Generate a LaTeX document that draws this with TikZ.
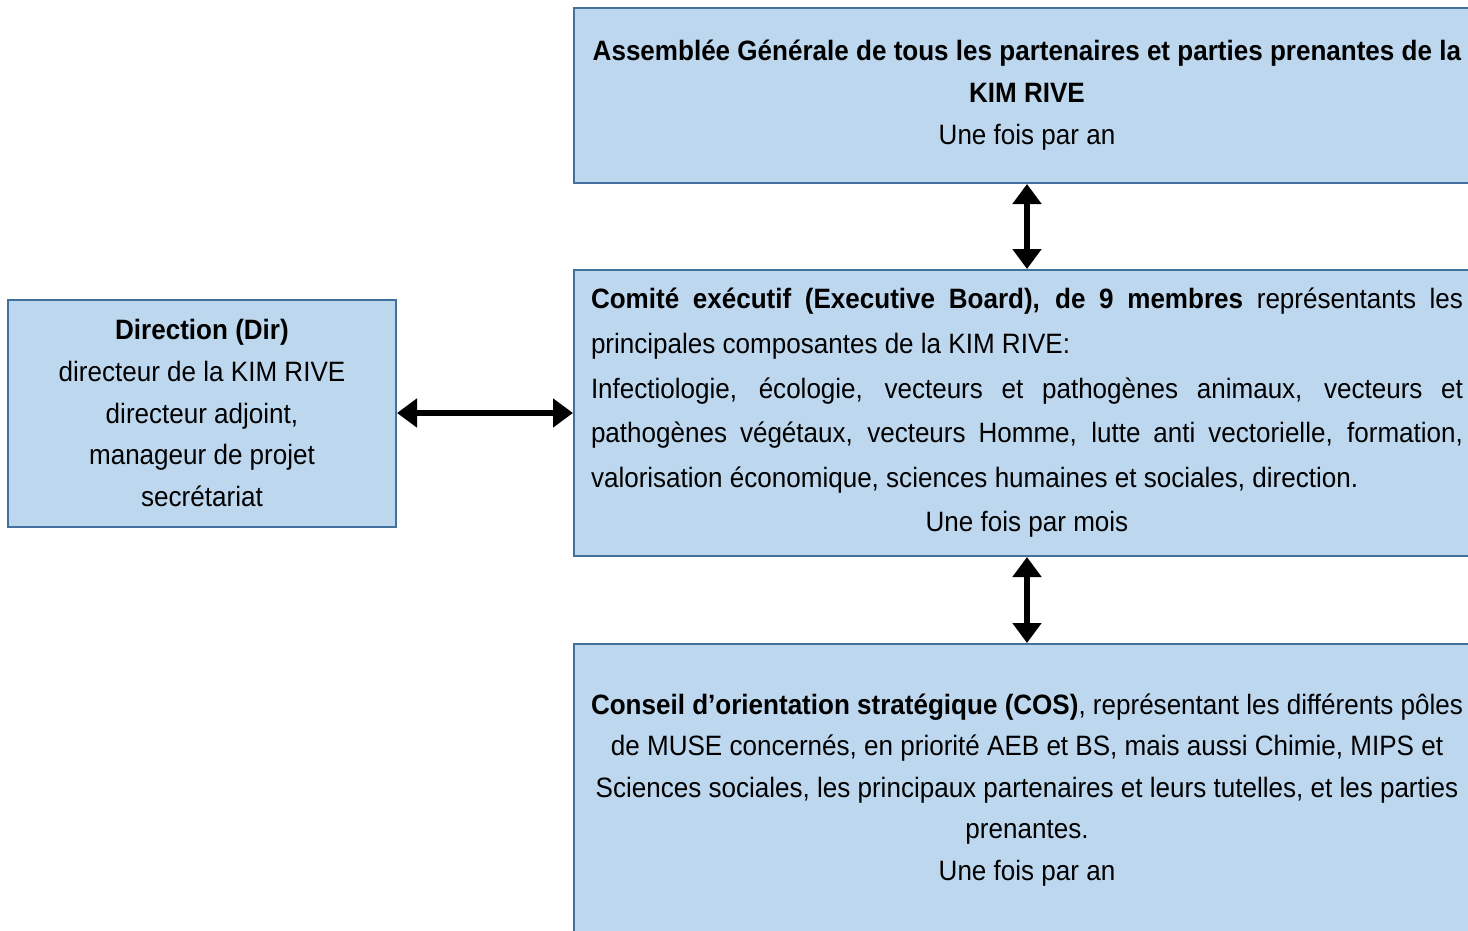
\documentclass[tikz,border=0pt]{standalone}
\usepackage{fontspec}
\setmainfont{Liberation Sans}[FakeStretch=0.93]
\usetikzlibrary{positioning,arrows.meta}
\definecolor{boxfill}{RGB}{189,215,238}
\definecolor{boxline}{RGB}{65,113,156}

\begin{document}
\begin{tikzpicture}[x=1pt,y=-1pt,
  box/.style={draw=boxline,fill=boxfill,line width=2pt,inner xsep=17pt,inner ysep=0pt,
    font=\fontsize{28}{42}\selectfont},
  link/.style={{Triangle[length=20pt,width=28pt]}-{Triangle[length=20pt,width=28pt]},line width=6pt}]
  \useasboundingbox (0,0) rectangle (1468,930);

  \node[box,anchor=north west,text width=872pt,minimum height=175pt,align=flush center] (ag) at (573,7)
    {\textbf{Assemblée Générale de tous les partenaires et parties prenantes de la}\\
     \textbf{KIM RIVE}\\
     Une fois par an};
  \node[box,below=85pt of ag,text width=872pt,minimum height=286pt,align=justify,
    font=\fontsize{28}{44.6}\selectfont] (ce)
    {\textbf{Comité exécutif (Executive Board), de 9 membres} représentants les\linebreak
     principales composantes de la KIM RIVE:\newline
     Infectiologie, écologie, vecteurs et pathogènes animaux, vecteurs et\linebreak
     pathogènes végétaux, vecteurs Homme, lutte anti vectorielle, formation,\linebreak
     valorisation économique, sciences humaines et sociales, direction.\par
     {\centering Une fois par mois\par}};
  \node[box,below=86pt of ce,text width=872pt,minimum height=292pt,align=flush center,
    font=\fontsize{28}{41.5}\selectfont] (cos)
    {\textbf{Conseil d’orientation stratégique (COS)}, représentant les différents pôles\\
     de MUSE concernés, en priorité AEB et BS, mais aussi Chimie, MIPS et\\
     Sciences sociales, les principaux partenaires et leurs tutelles, et les parties\\
     prenantes.\\
     Une fois par an};
  \node[box,left=176pt of ce,text width=354pt,minimum height=227pt,align=flush center,
    font=\fontsize{28}{41.7}\selectfont] (dir)
    {\textbf{Direction (Dir)}\\
     directeur de la KIM RIVE\\
     directeur adjoint,\\
     manageur de projet\\
     secrétariat};

  \path[link] (ag) edge (ce)
    (ce) edge (cos)
    (dir) edge (ce);
\end{tikzpicture}
\end{document}
